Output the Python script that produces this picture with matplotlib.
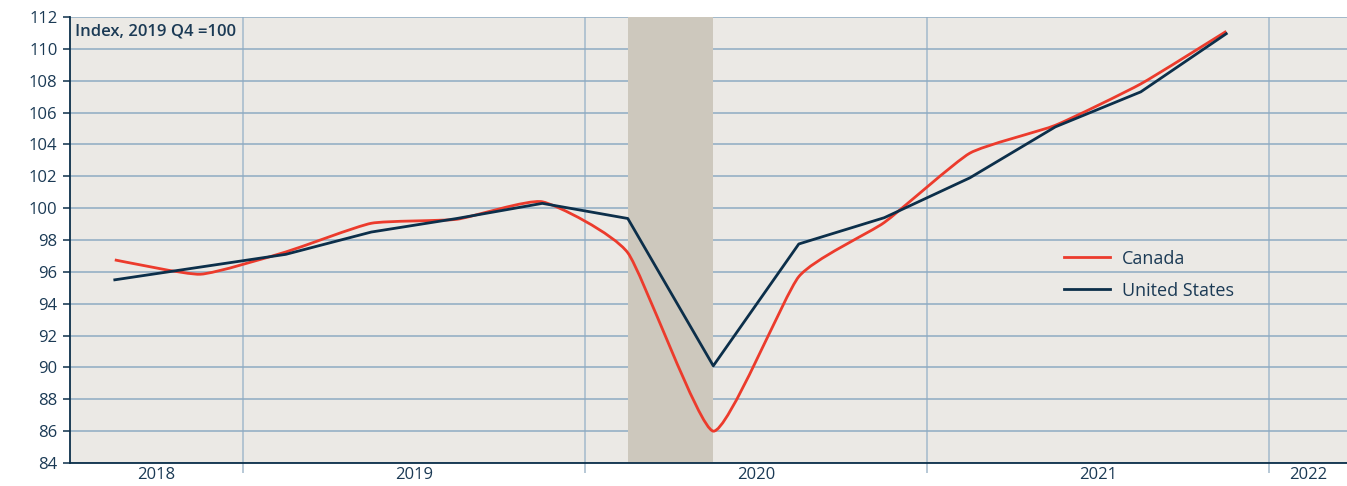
import matplotlib
matplotlib.use("Agg")
import matplotlib.pyplot as plt
from matplotlib.path import Path
from matplotlib.patches import PathPatch
import numpy as np

plt.rcParams["font.family"] = ["Open Sans", "DejaVu Sans"]

# quarterly data, index 2019 Q4 = 100
quarters = ["2018Q3", "2018Q4", "2019Q1", "2019Q2", "2019Q3", "2019Q4",
            "2020Q1", "2020Q2", "2020Q3", "2020Q4",
            "2021Q1", "2021Q2", "2021Q3", "2021Q4"]
canada = [96.75, 95.85, 97.25, 99.05, 99.3, 100.4,
          97.2, 86.0, 95.7, 99.1,
          103.45, 105.2, 107.8, 111.1]
united_states = [95.5, 96.3, 97.1, 98.5, 99.35, 100.3,
                 99.35, 90.1, 97.75, 99.4,
                 101.9, 105.1, 107.3, 110.95]
recession = ("2020Q1", "2020Q2")
years = [2018, 2019, 2020, 2021, 2022]

ink = "#1b3a55"
red = "#ec3b2c"
navy = "#0c2f4a"
grid = "#8eabc2"


def qpos(q):
    # midpoint of quarter in decimal years
    return int(q[:4]) + (int(q[-1]) - 0.5) / 4


x = np.array([qpos(q) for q in quarters])
xmin, xmax = 2018.494, 2022.228

fig = plt.figure(figsize=(13.47, 4.86), dpi=100)
ax = fig.add_axes([70 / 1347, 23 / 486, 1 - 70 / 1347, 446 / 486])
ax.set_facecolor("#ebe9e5")
fig.patch.set_facecolor("white")

ax.axvspan(qpos(recession[0]), qpos(recession[1]), color="#cdc8bd", lw=0, zorder=1)


def smooth_path(xs, ys, k=12):
    # mild bezier smoothing through the points
    pts = np.column_stack([xs, ys])
    verts = [pts[0]]
    codes = [Path.MOVETO]
    n = len(pts)
    for i in range(n - 1):
        p0 = pts[max(i - 1, 0)]
        p1 = pts[i]
        p2 = pts[i + 1]
        p3 = pts[min(i + 2, n - 1)]
        verts += [p1 + (p2 - p0) / k, p2 - (p3 - p1) / k, p2]
        codes += [Path.CURVE4] * 3
    return Path(verts, codes)


ax.add_patch(PathPatch(smooth_path(x, canada), fill=False, edgecolor=red,
                       lw=2.0, zorder=4, capstyle="butt"))
ax.plot([], [], color=red, lw=2.0, label="Canada")
ax.plot(x, united_states, color=navy, lw=2.0, zorder=5, label="United States")

ax.set_xlim(xmin, xmax)
ax.set_ylim(84, 112)
ax.set_yticks(np.arange(84, 113, 2))
ax.yaxis.grid(True, color=grid, lw=1.1, zorder=0)

# year boundaries as major ticks, year labels centred in visible part
ax.set_xticks(years[1:])
ax.set_xticklabels([])
ax.xaxis.grid(True, color="#a3b9cb", lw=1.1, zorder=0)
centers = []
for y in years:
    lo, hi = max(y, xmin), min(y + 1, xmax)
    centers.append((lo + hi) / 2)
ax.set_xticks(centers, minor=True)
ax.set_xticklabels([str(y) for y in years], minor=True)
ax.tick_params(axis="x", which="major", length=7, color="#a3b9cb", width=1.1)
ax.tick_params(axis="x", which="minor", length=0, pad=3, labelsize=12, labelcolor=ink)
ax.tick_params(axis="y", length=5, width=1.1, color=navy, pad=4, labelsize=12,
               labelcolor=ink)
ax.set_axisbelow(True)

for s in ["top", "right"]:
    ax.spines[s].set_visible(False)
ax.spines["left"].set_color(navy)
ax.spines["bottom"].set_color(navy)
ax.spines["left"].set_linewidth(1.3)
ax.spines["bottom"].set_linewidth(1.3)

ax.text(0.004, 0.985, "Index, 2019 Q4 =100", transform=ax.transAxes, fontsize=12,
        color=ink, ha="left", va="top", fontweight="semibold")

ax.legend(loc="upper left", bbox_to_anchor=(0.766, 0.515), frameon=False,
          fontsize=13, handlelength=2.5, handletextpad=0.7, labelspacing=0.78,
          labelcolor=ink)

fig.savefig("out.png", dpi=100)
